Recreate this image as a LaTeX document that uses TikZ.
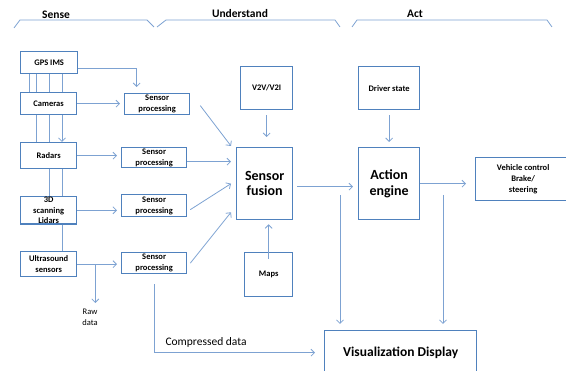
\documentclass[tikz,border=0pt]{standalone}
\usepackage{fontspec}
\setmainfont{Carlito}
\usetikzlibrary{calc,positioning,arrows.meta}
\definecolor{boxblue}{RGB}{79,129,189}
\definecolor{lineblue}{RGB}{125,162,210}
\tikzstyle{blk}=[draw=boxblue, line width=1.3pt, inner sep=0pt, anchor=north west, align=center, font=\bfseries\fontsize{8.5}{10.8}\selectfont]
\tikzstyle{big}=[font=\bfseries\fontsize{14}{15.5}\selectfont]
\tikzstyle{conn}=[draw=lineblue, line width=0.8pt]
\tikzstyle{arr}=[conn, -{Straight Barb[length=3.5pt,width=7pt]}]
\tikzstyle{head}=[font=\bfseries\fontsize{11.5}{13}\selectfont]
\newcommand{\busline}[4]{
\foreach \x in {#3} {
	\coordinate (bx) at (\x,0);
	\draw[#4] (#1.south -| bx) -- (#2.north -| bx);
}
}
\begin{document}
\begin{tikzpicture}[x=1pt,y=-1pt]
\useasboundingbox (0,0) rectangle (566,371);
\clip (0,0) rectangle (566,371);
% phases
\draw[conn] (14,28) -- (20,20) -- (147,20) -- (154,27);
\draw[conn] (157,27) -- (166,20) -- (335,20) -- (340,27);
\draw[conn] (352,27) -- (357,20) -- (547,20) -- (552,27);
\node[head] (sense) at (56,15) {Sense};
\node[head] (understand) at (240,14) {Understand};
\node[head] (act0) at (415,14) {Act};
% sensors
\node[blk, minimum width=57pt, minimum height=22pt] (gps) at (20,51) {GPS IMS};
\node[blk, minimum width=56pt, minimum height=22pt] (cam) at (20,92) {Cameras};
\node[blk, minimum width=56pt, minimum height=26pt] (rad) at (20,142) {Radars};
\node[blk, minimum width=56pt, minimum height=27pt] (lid) at (20,196) {3D\\scanning\\Lidars};
\node[blk, minimum width=56pt, minimum height=25pt] (ult) at (20,251) {Ultrasound\\sensors};
\node[blk, minimum width=65pt, minimum height=21pt] (sp1) at (124,93) {Sensor\\processing};
\node[blk, minimum width=65pt, minimum height=20pt] (sp2) at (121,147) {Sensor\\processing};
\node[blk, minimum width=65pt, minimum height=22pt] (sp3) at (121,194) {Sensor\\processing};
\node[blk, minimum width=65pt, minimum height=21pt] (sp4) at (121,252) {Sensor\\processing};
\node[font=\fontsize{8.5}{10.8}\selectfont, align=center, anchor=north] (raw) at (90,306) {Raw\\data};
% understand / act
\node[blk, minimum width=52pt, minimum height=43pt] (v2v) at (240,66) {V2V/V2I};
\node[blk, big, minimum width=56pt, minimum height=72pt] (fus) at (236,147) {Sensor\\fusion};
\node[blk, minimum width=48pt, minimum height=44pt] (maps) at (244,252) {Maps};
\node[blk, minimum width=61pt, minimum height=43pt] (drv) at (358,66) {Driver state};
\node[blk, big, minimum width=61pt, minimum height=72pt] (act) at (358,147) {Action\\engine};
\node[blk, minimum width=95pt, minimum height=43pt] (veh) at (475,157) {Vehicle control\\Brake/\\steering};
\node[blk, font=\bfseries\fontsize{13.5}{15}\selectfont, minimum width=152pt, minimum height=44pt] (viz) at (324,330) {Visualization Display};
% sensor bus
\busline{gps}{cam}{29,36,49,62}{conn}
\busline{cam}{rad}{36,49}{conn}
\busline{cam}{rad}{62}{arr}
\busline{rad}{lid}{49,62}{conn}
\busline{lid}{ult}{62}{conn}
% sensors to processing
\draw[arr, shorten >=6pt] ([yshift=-6pt]gps.east) -| ([xshift=-20.5pt]sp1.north);
\draw[arr, shorten >=4pt] (cam.east) -- (cam.east -| sp1.west);
\draw[arr, shorten >=4pt] (rad.east) -- (rad.east -| sp2.west);
\draw[arr, shorten >=4pt] (lid.east) -- (lid.east -| sp3.west);
\draw[arr, shorten >=4pt] (ult.east) -- (ult.east -| sp4.west);
\draw[arr, shorten >=3pt] ([xshift=18pt]ult.east) -- ([xshift=18pt]ult.east |- raw.north);
% processing to fusion
\draw[arr] ([xshift=10pt,yshift=-1.5pt]sp1.east) -- ([xshift=-5pt,yshift=1pt]fus.north west);
\draw[arr, shorten >=5pt] ([yshift=-4pt]sp2.east) -- ([yshift=-4pt]sp2.east -| fus.west);
\draw[arr] ([xshift=3pt,yshift=-4pt]sp3.east) -- ([xshift=-5pt]fus.west);
\draw[arr] ([xshift=3pt]sp4.east) -- ([xshift=-5pt,yshift=8pt]fus.south west);
\draw[arr, shorten <=5pt, shorten >=10pt] (v2v.south) -- (v2v.south |- fus.north);
\draw[arr, shorten <=-7pt, shorten >=4pt] (maps.north) -- (maps.north |- fus.south);
\draw[arr, shorten <=10pt, shorten >=9pt] (sp4.south) |- (viz.west);
\node[font=\fontsize{11.5}{13}\selectfont, anchor=base west] (comp) at (162,346) {Compressed data};
% fusion to action
\draw[arr, shorten <=4pt, shorten >=5pt] ([yshift=-3pt]fus.east) -- ([yshift=-3pt]fus.east -| act.west);
\draw[arr, shorten <=5pt, shorten >=5pt] (drv.south) -- (drv.south |- act.north);
\draw[arr, shorten >=9pt] (act.east) -- (act.east -| veh.west);
\coordinate (vizl) at (340,195);
\coordinate (vizr) at (443,195);
\draw[arr, shorten >=6pt] (vizl) -- (vizl |- viz.north);
\draw[arr, shorten >=6pt] (vizr) -- (vizr |- viz.north);
\end{tikzpicture}
\end{document}
